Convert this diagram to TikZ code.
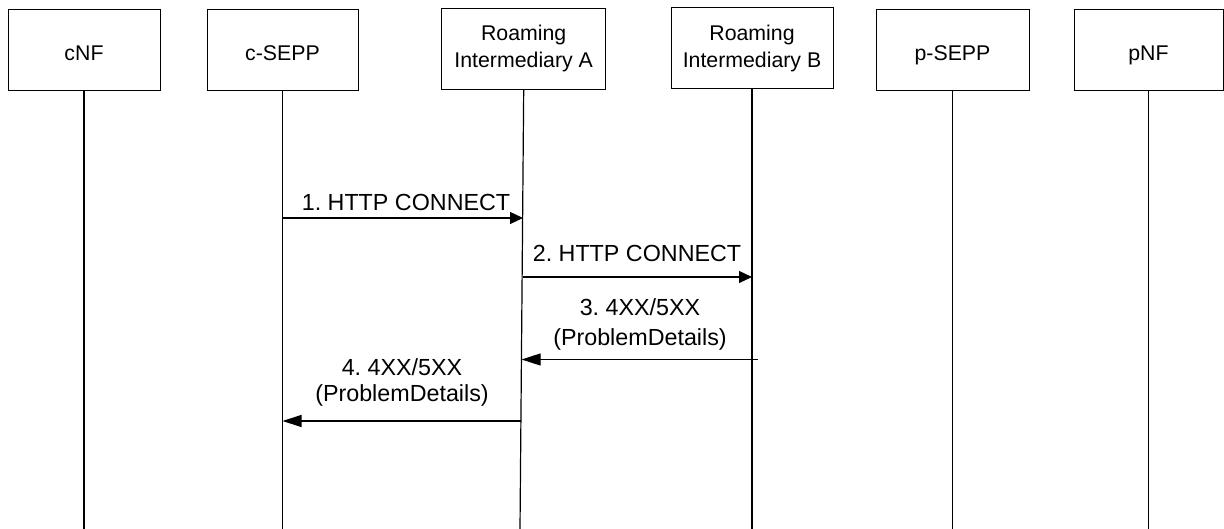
\documentclass[tikz,border=0pt]{standalone}
\usepackage{fontspec}
\setmainfont{Liberation Sans}
\usetikzlibrary{arrows.meta}
\frenchspacing

\begin{document}
\begin{tikzpicture}[x=1pt,y=-1pt,
  entity/.style={draw, line width=1pt, inner sep=0pt,
    font=\fontsize{21.3}{27}\selectfont, align=center},
  oneline/.style={text height=19.3pt, text depth=0pt},
  lifeline/.style={line width=1.2pt},
  msgr/.style={line width=1.2pt, -{Triangle[length=13pt,width=12pt]}},
  msgl/.style={line width=1.2pt, -{Triangle[length=19pt,width=12pt]}},
  msglabel/.style={font=\fontsize{23.3}{27}\selectfont, align=center, inner sep=0pt},
]
\useasboundingbox (0,0) rectangle (1224,529);

% participants
\node[entity, oneline, minimum width=152pt, minimum height=81pt] (cnf)   at (84,50.5)     {cNF};
\node[entity, oneline, minimum width=151pt, minimum height=81pt] (csepp) at (282.5,50.5)  {c-SEPP};
\node[entity, minimum width=164pt, minimum height=80.7pt]        (ria)   at (523.7,48.7)  {Roaming\\Intermediary A};
\node[entity, minimum width=162pt, minimum height=81pt]          (rib)   at (752,48.5)    {Roaming\\Intermediary B};
\node[entity, oneline, minimum width=153pt, minimum height=81pt] (psepp) at (952.5,50.5)  {p-SEPP};
\node[entity, oneline, minimum width=149pt, minimum height=81pt] (pnf)   at (1148.5,50.5) {pNF};

% lifeline ends
\coordinate (cnfbot)   at (84,529);
\coordinate (cseppbot) at (282.5,529);
\coordinate (riabot)   at (520,529);
\coordinate (ribbot)   at (752,529);
\coordinate (pseppbot) at (952.5,529);
\coordinate (pnfbot)   at (1148.5,529);

\draw[lifeline] (cnf.south)   -- (cnfbot);
\draw[lifeline] (csepp.south) -- (cseppbot);
\draw[lifeline] (ria.south)   -- (riabot);
\draw[lifeline] (rib.south)   -- (ribbot);
\draw[lifeline] (psepp.south) -- (pseppbot);
\draw[lifeline] (pnf.south)   -- (pnfbot);

% message end points
\coordinate (m1s) at (282.5,218);
\coordinate (m1e) at (523,218);
\coordinate (m2s) at (522.5,277);
\coordinate (m2e) at (752,277);
\coordinate (m3s) at (758,359.5);
\coordinate (m3e) at (521.6,359.5);
\coordinate (m4s) at (521,421);
\coordinate (m4e) at (282.5,421);

% messages
\draw[msgr] (m1s) -- (m1e);
\node[msglabel, anchor=base] (l1) at (406,210.7) {1. HTTP CONNECT};

\draw[msgr] (m2s) -- (m2e);
\node[msglabel, anchor=base] (l2) at (637,261.7) {2. HTTP CONNECT};

\draw[msgl] (m3s) -- (m3e);
\node[msglabel, font=\fontsize{23.3}{30}\selectfont] (l3) at (640,324.1) {3. 4XX/5XX\\(ProblemDetails)};

\draw[msgl] (m4s) -- (m4e);
\node[msglabel, font=\fontsize{23.3}{26.7}\selectfont] (l4) at (402,382.4) {4. 4XX/5XX\\(ProblemDetails)};
\end{tikzpicture}
\end{document}
